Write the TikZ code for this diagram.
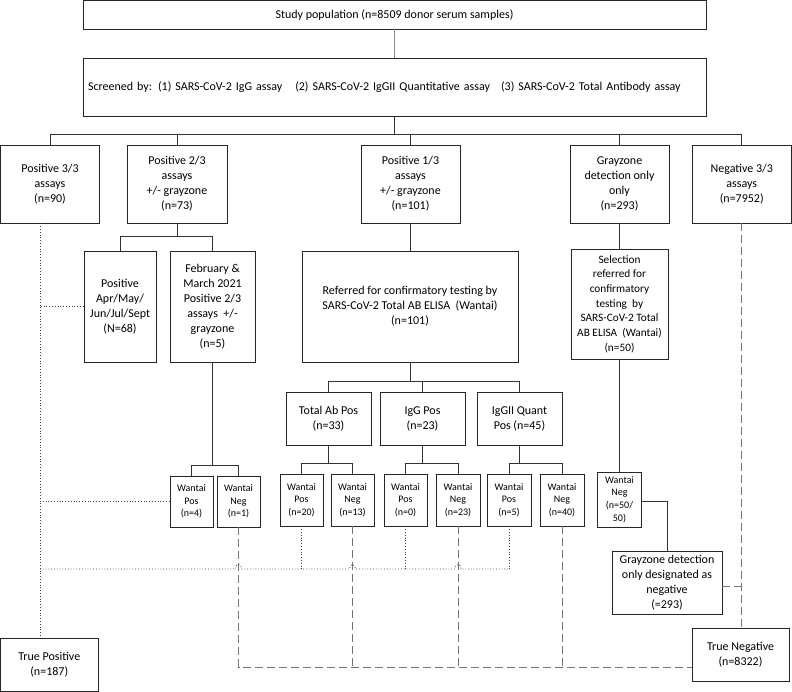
\documentclass[tikz,border=0pt]{standalone}
\usepackage{fontspec}
\setmainfont{Carlito}
\begin{document}
\begin{tikzpicture}[x=1pt,y=-1pt,
  box/.style={draw=black!85, line width=0.9pt, align=center, inner sep=1pt, font=\fontsize{12}{15}\selectfont},
  wbox/.style={draw=black!85, line width=0.9pt, align=center, inner sep=0pt, font=\fontsize{10}{12.7}\selectfont},
  conn/.style={draw=black!80, line width=0.8pt},
  tpline/.style={draw=black!75, line width=0.8pt, dotted},
  tnline/.style={draw=black!55, line width=1pt, dash pattern=on 8pt off 4pt}]
\useasboundingbox (0,0) rectangle (792,692);
% top boxes
\node[box, minimum width=623, minimum height=28.5] (study) at (394.5,14.75) {Study population (n=8509 donor serum samples)};
\node[box, text width=613, inner xsep=5pt, align=left, minimum height=58] (screen) at (394.5,87)
  {Screened by: (1) SARS-CoV-2 IgG assay\hspace{9pt} (2) SARS-CoV-2 IgGII Quantitative assay\hspace{7pt} (3) SARS-CoV-2 Total Antibody assay};
% row 1
\node[box, minimum width=99, minimum height=78] (pos3) at (50,184) {Positive 3/3\\assays\\(n=90)};
\node[box, minimum width=100, minimum height=78] (pos2) at (177,184) {Positive 2/3\\assays\\+/- grayzone\\(n=73)};
\node[box, minimum width=99, minimum height=78] (pos1) at (410.5,184) {Positive 1/3\\assays\\+/- grayzone\\(n=101)};
\node[box, minimum width=99, minimum height=78] (gray) at (619.5,184) {Grayzone\\detection only\\only\\(n=293)};
\node[box, minimum width=99.5, minimum height=78] (neg3) at (741.75,184) {Negative 3/3\\assays\\(n=7952)};
% row 2
\node[box, minimum width=72, minimum height=111] (apr) at (120,306.5) {Positive\\Apr/May/\\Jun/Jul/Sept\\(N=68)};
\node[box, minimum width=85, minimum height=111] (feb) at (212.5,306.5) {February \&\\March 2021\\Positive 2/3\\assays~ +/-\\grayzone\\(n=5)};
\node[box, minimum width=216, minimum height=111] (ref) at (410,306.5) {Referred for confirmatory testing by\\SARS-CoV-2 Total AB ELISA~ (Wantai)\\(n=101)};
\node[box, minimum width=97, minimum height=110, font=\fontsize{11.3}{14.7}\selectfont] (sel) at (619.5,304) {Selection\\referred for\\confirmatory\\testing~ by\\SARS-CoV-2 Total\\AB ELISA~ (Wantai)\\(n=50)};
% row 3
\node[box, minimum width=85, minimum height=53] (tab) at (328.5,418.5) {Total Ab Pos\\(n=33)};
\node[box, minimum width=85, minimum height=53] (igg) at (422.5,418.5) {IgG Pos\\(n=23)};
\node[box, minimum width=85, minimum height=53] (iq) at (519.5,418.5) {IgGII Quant\\Pos (n=45)};
% row 4
\node[wbox, minimum width=43, minimum height=51] (wp1) at (191.5,501.5) {Wantai\\Pos\\(n=4)};
\node[wbox, minimum width=43, minimum height=51] (wn1) at (238.5,501.5) {Wantai\\Neg\\(n=1)};
\node[wbox, minimum width=43, minimum height=52] (wp2) at (301.5,500) {Wantai\\Pos\\(n=20)};
\node[wbox, minimum width=43, minimum height=52] (wn2) at (352.5,500) {Wantai\\Neg\\(n=13)};
\node[wbox, minimum width=43, minimum height=52] (wp3) at (405.5,500) {Wantai\\Pos\\(n=0)};
\node[wbox, minimum width=44, minimum height=52] (wn3) at (458,500) {Wantai\\Neg\\(n=23)};
\node[wbox, minimum width=44, minimum height=52] (wp4) at (509,500) {Wantai\\Pos\\(n=5)};
\node[wbox, minimum width=44, minimum height=52] (wn4) at (562,500) {Wantai\\Neg\\(n=40)};
\node[wbox, minimum width=44, minimum height=55] (wn5) at (619.5,499.5) {Wantai\\Neg\\(n=50/\\50)};
\node[box, minimum width=110, minimum height=63] (gdn) at (667,582.5) {Grayzone detection\\only designated as\\negative\\(=293)};
\node[box, minimum width=97.5, minimum height=53.5] (tp) at (49.25,665) {True Positive\\(n=187)};
\node[box, minimum width=97, minimum height=53] (tn) at (740.5,654.5) {True Negative\\(n=8322)};
% helper coordinates
\coordinate (tpx) at (40,0);
\coordinate (busA) at (0,134);
\coordinate (busB) at (0,236);
\coordinate (busC) at (0,381);
\coordinate (busD) at (0,465);
\coordinate (busE) at (0,463);
\coordinate (busTP) at (0,569);
\coordinate (busTN) at (0,667);
\coordinate (gdnout) at ([yshift=-3.5pt]gdn.east);
% solid connectors
\draw[draw=black!45, line width=1.4pt] (study.south) -- (screen.north);
\draw[conn] (screen.south) -- (screen.south |- busA);
\draw[conn] (pos3.north) -- (pos3.north |- busA) -- (neg3.north |- busA) -- (neg3.north);
\draw[conn] (pos2.north) -- (pos2.north |- busA);
\draw[conn] (pos1.north) -- (pos1.north |- busA);
\draw[conn] (gray.north) -- (gray.north |- busA);
\draw[conn] (pos2.south) -- (pos2.south |- busB);
\draw[conn] (apr.north) -- (apr.north |- busB) -- (feb.north |- busB) -- (feb.north);
\draw[conn] (pos1.south) -- (pos1.south |- ref.north);
\draw[conn] (gray.south) -- (sel.north);
\draw[conn] (ref.south) -- (ref.south |- busC);
\draw[conn] (tab.north) -- (tab.north |- busC) -- (iq.north |- busC) -- (iq.north);
\draw[conn] (igg.north) -- (igg.north |- busC);
\draw[conn] (feb.south) -- (feb.south |- busD);
\draw[conn] (wp1.north) -- (wp1.north |- busD) -- (wn1.north |- busD) -- (wn1.north);
\draw[conn] (tab.south) -- (tab.south |- busE);
\draw[conn] (wp2.north) -- (wp2.north |- busE) -- (wn2.north |- busE) -- (wn2.north);
\draw[conn] (igg.south) -- (igg.south |- busE);
\draw[conn] (wp3.north) -- (wp3.north |- busE) -- (wn3.north |- busE) -- (wn3.north);
\draw[conn] (iq.south) -- (iq.south |- busE);
\draw[conn] (wp4.north) -- (wp4.north |- busE) -- (wn4.north |- busE) -- (wn4.north);
\draw[conn] (sel.south) -- (wn5.north);
\draw[conn] ([yshift=-1.5pt]wn5.east) -| (gdn.north);
% true negative dashed connectors
\draw[tnline] (wn1.south) -- (wn1.south |- busTN) -- (tn.west |- busTN);
\draw[tnline] (wn2.south) -- (wn2.south |- busTN);
\draw[tnline] (wn3.south) -- (wn3.south |- busTN);
\draw[tnline] (wn4.south) -- (wn4.south |- busTN);
\draw[tnline] (neg3.south) -- (neg3.south |- tn.north);
\draw[tnline] (gdnout) -- (neg3.south |- gdnout);
% true positive dotted connectors
\draw[tpline] (tpx |- pos3.south) -- (tpx |- tp.north);
\draw[tpline] (apr.west) -- (apr.west -| tpx);
\draw[tpline] (wp1.west) -- (wp1.west -| tpx);
\draw[tpline] (wp2.south) -- (wp2.south |- busTP);
\draw[tpline] (wp3.south) -- (wp3.south |- busTP);
\draw[tpline] (wp4.south) -- (wp4.south |- busTP);
\draw[tpline] (tpx |- busTP) -- ([xshift=-3pt]wn1.south |- busTP)
  .. controls +(0,-6) and +(0,-6) .. ([xshift=3pt]wn1.south |- busTP)
  -- ([xshift=-3pt]wn2.south |- busTP)
  .. controls +(0,-6) and +(0,-6) .. ([xshift=3pt]wn2.south |- busTP)
  -- ([xshift=-3pt]wn3.south |- busTP)
  .. controls +(0,-6) and +(0,-6) .. ([xshift=3pt]wn3.south |- busTP)
  -- (wp4.south |- busTP);
\end{tikzpicture}
\end{document}
